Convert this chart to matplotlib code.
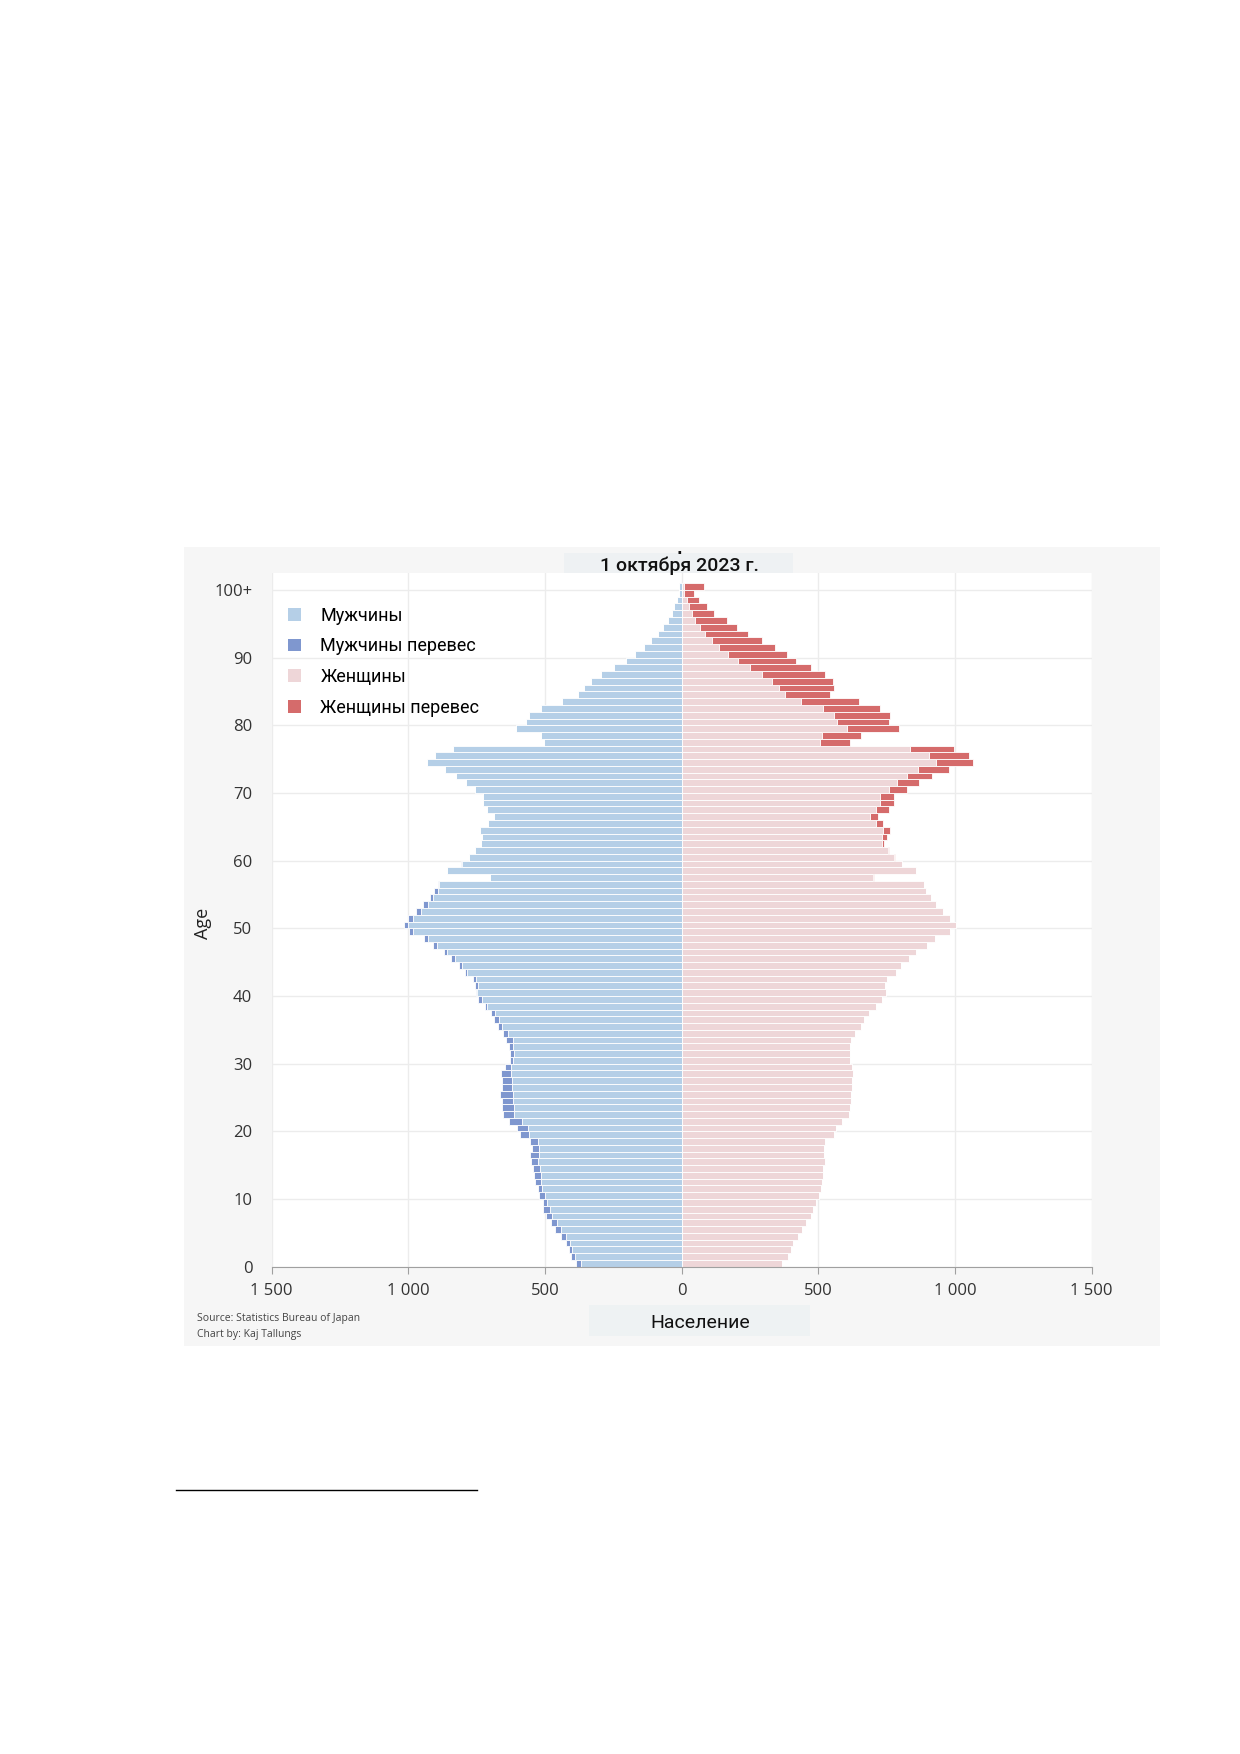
import numpy as np
import matplotlib
matplotlib.use("Agg")
from matplotlib import pyplot as plt
from matplotlib.patches import Rectangle, Patch
from matplotlib.ticker import FuncFormatter

# population in thousands, ages 0..100+
ages = np.arange(0, 101)
men = [386, 406, 414, 423, 442, 463, 479, 496, 506, 509,
       521, 525, 537, 540, 545, 553, 555, 549, 555, 592,
       604, 631, 653, 659, 656, 665, 659, 659, 660, 647,
       629, 630, 632, 641, 653, 672, 687, 699, 721, 745,
       754, 758, 762, 794, 813, 844, 871, 910, 944, 998,
       1016, 1000, 972, 945, 922, 905, 893, 700, 859, 806,
       778, 755, 734, 731, 737, 710, 688, 712, 726, 726,
       757, 788, 824, 866, 932, 904, 836, 505, 514, 605,
       568, 558, 516, 438, 378, 357, 331, 295, 249, 205,
       171, 137, 112, 85, 68, 50, 37, 27, 18, 10,
       10]
women = [368, 389, 401, 407, 425, 441, 455, 473, 482, 492,
         501, 510, 513, 516, 518, 525, 522, 522, 525, 558,
         564, 586, 613, 615, 619, 619, 622, 622, 625, 623,
         617, 614, 617, 619, 635, 657, 668, 684, 712, 732,
         748, 745, 751, 785, 802, 830, 858, 897, 927, 982,
         1002, 982, 955, 930, 911, 893, 888, 702, 858, 805,
         782, 758, 741, 751, 763, 736, 718, 757, 777, 775,
         824, 867, 915, 979, 1067, 1052, 995, 617, 656, 795,
         757, 763, 725, 647, 541, 559, 553, 525, 474, 419,
         385, 340, 292, 242, 201, 167, 119, 92, 64, 46,
         80]
age_ticks = list(range(0, 101, 10))
age_labels = [str(a) for a in age_ticks[:-1]] + ["100+"]
pop_ticks = [-1500, -1000, -500, 0, 500, 1000, 1500]

men = np.array(men)
women = np.array(women)
common = np.minimum(men, women)
men_extra = np.clip(men - women, 0, None)
women_extra = np.clip(women - men, 0, None)

c_men = "#b5cfe7"
c_men_x = "#7f97cf"
c_wom = "#eed6d8"
c_wom_x = "#d56b6b"

W, H = 1240, 1754
fig = plt.figure(figsize=(W / 100, H / 100), dpi=100)
fig.patch.set_facecolor("white")

def fx(px):
    return px / W

def fy(py):
    return 1 - py / H

# light grey panel behind the chart
fig.patches.append(Rectangle((fx(184), fy(1346)), (1160 - 184) / W, (1346 - 547) / H,
                             transform=fig.transFigure, facecolor="#f6f6f6",
                             edgecolor="none", zorder=-10))

ax = fig.add_axes([fx(271.7), fy(1266.7), 820 / W, (1266.7 - 573) / H])
ax.set_facecolor("white")

y = ages + 0.5
kw = dict(height=1.0, edgecolor="white", linewidth=0.6)
ax.barh(y, -common, color=c_men, **kw)
ax.barh(y, -men_extra, left=-common, color=c_men_x, **kw)
ax.barh(y, common, color=c_wom, **kw)
ax.barh(y, women_extra, left=common, color=c_wom_x, **kw)

ax.set_xlim(-1500, 1500)
ax.set_ylim(0, 102.5)
ax.set_xticks(pop_ticks)
ax.xaxis.set_major_formatter(FuncFormatter(lambda v, p: f"{abs(int(v)):,}".replace(",", " ")))
ax.set_yticks(age_ticks)
ax.set_yticklabels(age_labels)
ax.set_axisbelow(True)
ax.grid(True, color="#ececec", linewidth=1.0)
for s in ["top", "right", "left"]:
    ax.spines[s].set_visible(False)
ax.spines["bottom"].set_color("#a0a0a0")
ax.tick_params(axis="x", length=5, color="#a0a0a0", pad=7, labelsize=12, labelcolor="#333333")
ax.tick_params(axis="y", length=0, pad=14, labelsize=12, labelcolor="#333333")
for lab in ax.get_xticklabels() + ax.get_yticklabels():
    lab.set_family("Open Sans")

ax.set_ylabel("Age", family="Open Sans", fontsize=13, color="#222222")
ax.yaxis.set_label_coords(-0.073, 0.495)

handles = [Patch(facecolor=c_men, label="Мужчины"),
           Patch(facecolor=c_men_x, label="Мужчины перевес"),
           Patch(facecolor=c_wom, label="Женщины"),
           Patch(facecolor=c_wom_x, label="Женщины перевес")]
ax.legend(handles=handles, loc="upper left", bbox_to_anchor=(0.0, 0.975), frameon=False,
          handlelength=0.7, handleheight=0.7, handletextpad=1.1, labelspacing=0.7,
          prop={"family": "Roboto", "size": 13})

# title with its faint box
fig.patches.append(Rectangle((fx(564), fy(579)), (793 - 564) / W, 26 / H,
                             transform=fig.transFigure, facecolor="#eef1f3",
                             edgecolor="none", zorder=-5))
fig.text(fx(679), fy(566), "1 октября 2023 г.", ha="center", va="center",
         family="Roboto", fontsize=14, weight="medium", color="#111111", zorder=2)
fig.text(fx(679), fy(549), ".", ha="center", va="center", fontsize=11,
         weight="bold", color="#111111")

# x label with its faint box
fig.patches.append(Rectangle((fx(589), fy(1336)), (810 - 589) / W, 31 / H,
                             transform=fig.transFigure, facecolor="#eef2f3",
                             edgecolor="none", zorder=-5))
fig.text(fx(700), fy(1323), "Население", ha="center", va="center",
         family="Roboto", fontsize=14, color="#111111", zorder=2)

fig.text(fx(197), fy(1318), "Source: Statistics Bureau of Japan", ha="left", va="center",
         family="Open Sans", fontsize=7.5, color="#444444")
fig.text(fx(197), fy(1334), "Chart by: Kaj Tallungs", ha="left", va="center",
         family="Open Sans", fontsize=7.5, color="#444444")

# footnote separator line under the figure
fig.add_artist(plt.Line2D([fx(176), fx(477)], [fy(1490), fy(1490)],
                          transform=fig.transFigure, color="black", linewidth=1.0))

fig.savefig("out.png", dpi=100)
